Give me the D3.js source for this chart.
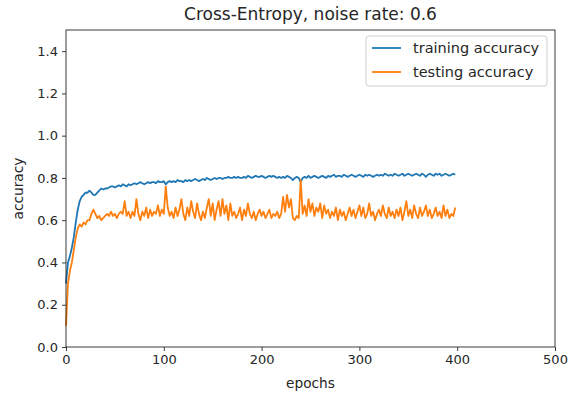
<!DOCTYPE html>
<html>
<head>
<meta charset="utf-8">
<script src="https://cdn.jsdelivr.net/npm/d3@7"></script>
<style>
  html, body { margin: 0; padding: 0; background: #fff; }
  svg text { font-family: "DejaVu Sans", sans-serif; fill: #262626; }
</style>
</head>
<body>
<svg id="chart" width="572" height="396"></svg>
<script>
// Accuracy per epoch, sampled every 2 epochs
const epochStep = 2;
const trainingAccuracy = [
  0.30, 0.40, 0.43, 0.47, 0.52, 0.59, 0.65, 0.69, 0.71, 0.72,
  0.73, 0.73, 0.74, 0.73, 0.72, 0.72, 0.73, 0.74, 0.75, 0.745,
  0.75, 0.75, 0.755, 0.76, 0.76, 0.755, 0.76, 0.765, 0.76, 0.77,
  0.765, 0.76, 0.77, 0.765, 0.77, 0.775, 0.77, 0.775, 0.78, 0.775,
  0.77, 0.775, 0.78, 0.775, 0.78, 0.78, 0.775, 0.785, 0.78, 0.78,
  0.785, 0.77, 0.78, 0.785, 0.78, 0.785, 0.78, 0.79, 0.785, 0.785,
  0.78, 0.79, 0.785, 0.79, 0.785, 0.79, 0.795, 0.79, 0.785, 0.79,
  0.795, 0.79, 0.80, 0.795, 0.79, 0.795, 0.80, 0.795, 0.80, 0.80,
  0.795, 0.80, 0.80, 0.805, 0.80, 0.80, 0.805, 0.80, 0.805, 0.80,
  0.80, 0.805, 0.80, 0.81, 0.805, 0.80, 0.805, 0.81, 0.805, 0.805,
  0.81, 0.805, 0.80, 0.805, 0.81, 0.805, 0.81, 0.805, 0.80, 0.805,
  0.80, 0.805, 0.80, 0.81, 0.805, 0.80, 0.79, 0.80, 0.805, 0.80,
  0.78, 0.80, 0.805, 0.80, 0.81, 0.80, 0.805, 0.81, 0.805, 0.80,
  0.805, 0.81, 0.805, 0.80, 0.81, 0.805, 0.81, 0.815, 0.805, 0.81,
  0.81, 0.805, 0.815, 0.81, 0.805, 0.81, 0.815, 0.81, 0.805, 0.81,
  0.815, 0.81, 0.805, 0.815, 0.81, 0.815, 0.81, 0.805, 0.81, 0.815,
  0.81, 0.815, 0.81, 0.82, 0.815, 0.81, 0.815, 0.81, 0.82, 0.815,
  0.81, 0.815, 0.82, 0.81, 0.815, 0.82, 0.815, 0.81, 0.815, 0.82,
  0.815, 0.81, 0.82, 0.815, 0.805, 0.815, 0.82, 0.815, 0.81, 0.82,
  0.815, 0.82, 0.81, 0.815, 0.82, 0.815, 0.81, 0.815, 0.82, 0.815
];
const testingAccuracy = [
  0.10, 0.30, 0.36, 0.40, 0.46, 0.52, 0.56, 0.58, 0.57, 0.59,
  0.58, 0.60, 0.60, 0.63, 0.65, 0.63, 0.61, 0.62, 0.60, 0.61,
  0.62, 0.63, 0.62, 0.64, 0.62, 0.63, 0.61, 0.63, 0.64, 0.63,
  0.69, 0.62, 0.64, 0.61, 0.64, 0.62, 0.70, 0.63, 0.60, 0.64,
  0.62, 0.66, 0.61, 0.65, 0.62, 0.64, 0.63, 0.67, 0.62, 0.65,
  0.63, 0.76, 0.66, 0.62, 0.64, 0.61, 0.66, 0.62, 0.65, 0.70,
  0.63, 0.60, 0.66, 0.62, 0.69, 0.64, 0.61, 0.68, 0.63, 0.60,
  0.64, 0.61, 0.66, 0.70, 0.62, 0.68, 0.60, 0.65, 0.69, 0.62,
  0.70, 0.63, 0.67, 0.60, 0.68, 0.62, 0.64, 0.61, 0.63, 0.66,
  0.60, 0.65, 0.62, 0.68, 0.63, 0.61, 0.64, 0.60, 0.63, 0.65,
  0.62, 0.64, 0.61, 0.63, 0.65, 0.61, 0.63, 0.62, 0.64, 0.61,
  0.63, 0.71, 0.64, 0.72, 0.66, 0.70, 0.61, 0.60, 0.62, 0.61,
  0.79, 0.63, 0.67, 0.62, 0.70, 0.64, 0.68, 0.62, 0.66, 0.64,
  0.68, 0.61, 0.67, 0.63, 0.65, 0.61, 0.64, 0.62, 0.66, 0.60,
  0.65, 0.62, 0.64, 0.60, 0.63, 0.66, 0.62, 0.65, 0.61, 0.64,
  0.67, 0.62, 0.66, 0.61, 0.63, 0.68, 0.62, 0.64, 0.60, 0.63,
  0.65, 0.62, 0.67, 0.63, 0.61, 0.66, 0.62, 0.64, 0.61, 0.65,
  0.62, 0.66, 0.60, 0.64, 0.69, 0.62, 0.65, 0.61, 0.67, 0.63,
  0.61, 0.66, 0.62, 0.64, 0.67, 0.62, 0.65, 0.61, 0.63, 0.66,
  0.62, 0.64, 0.61, 0.67, 0.62, 0.65, 0.61, 0.63, 0.62, 0.66
];
const xTicks = [0, 100, 200, 300, 400, 500];
const yTicks = [0.0, 0.2, 0.4, 0.6, 0.8, 1.0, 1.2, 1.4];
const seriesNames = ["training accuracy", "testing accuracy"];
const seriesColors = ["#1f77b4", "#ff7f0e"];

const svg = d3.select("#chart");
const plot = { left: 66, right: 555, top: 30, bottom: 347 };

const x = d3.scaleLinear().domain([0, 500]).range([plot.left, plot.right]);
const y = d3.scaleLinear().domain([0, 1.5]).range([plot.bottom, plot.top]);

// axes
const xAxis = d3.axisBottom(x).tickValues(xTicks).tickSize(4).tickPadding(4)
  .tickFormat(d3.format("d"));
const yAxis = d3.axisLeft(y).tickValues(yTicks).tickSize(4).tickPadding(4)
  .tickFormat(d3.format(".1f"));

const gx = svg.append("g").attr("transform", `translate(0,${plot.bottom})`).call(xAxis);
const gy = svg.append("g").attr("transform", `translate(${plot.left},0)`).call(yAxis);
[gx, gy].forEach(g => {
  g.select(".domain").remove();
  g.selectAll(".tick line").attr("stroke", "#262626").attr("stroke-width", 0.9);
  g.selectAll(".tick text").attr("font-size", 13).attr("font-family", "DejaVu Sans, sans-serif")
    .attr("fill", "#262626");
});

// lines
const line = d3.line()
  .x((d, i) => x(i * epochStep))
  .y(d => y(d));

[trainingAccuracy, testingAccuracy].forEach((vals, k) => {
  svg.append("path")
    .datum(vals)
    .attr("fill", "none")
    .attr("stroke", seriesColors[k])
    .attr("stroke-width", 1.8)
    .attr("stroke-linejoin", "round")
    .attr("d", line);
});

// frame
svg.append("rect")
  .attr("x", plot.left).attr("y", plot.top)
  .attr("width", plot.right - plot.left).attr("height", plot.bottom - plot.top)
  .attr("fill", "none").attr("stroke", "#262626").attr("stroke-width", 0.9);

// title and axis labels
svg.append("text").attr("x", (plot.left + plot.right) / 2).attr("y", 20)
  .attr("text-anchor", "middle").attr("font-size", 17).text("Cross-Entropy, noise rate: 0.6");
svg.append("text").attr("x", (plot.left + plot.right) / 2).attr("y", 388)
  .attr("text-anchor", "middle").attr("font-size", 13.7).text("epochs");
svg.append("text").attr("transform", `translate(23,${(plot.top + plot.bottom) / 2}) rotate(-90)`)
  .attr("text-anchor", "middle").attr("font-size", 13.7).text("accuracy");

// legend
const lg = svg.append("g");
lg.append("rect").attr("x", 366).attr("y", 36).attr("width", 181).attr("height", 50)
  .attr("rx", 3).attr("fill", "#fff").attr("fill-opacity", 0.8)
  .attr("stroke", "#d0d0d0").attr("stroke-width", 1);
seriesNames.forEach((name, k) => {
  const cy = 48 + k * 24;
  lg.append("line").attr("x1", 372).attr("x2", 401).attr("y1", cy).attr("y2", cy)
    .attr("stroke", seriesColors[k]).attr("stroke-width", 1.8);
  lg.append("text").attr("x", 413).attr("y", cy + 5).attr("font-size", 14.5).text(name);
});
</script>
</body>
</html>
